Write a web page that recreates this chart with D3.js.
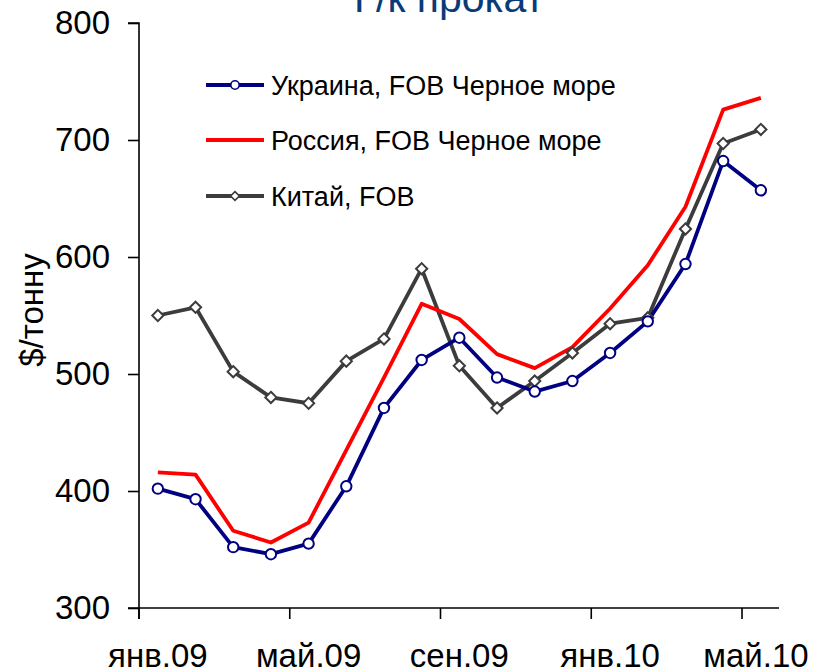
<!DOCTYPE html>
<html><head><meta charset="utf-8">
<script src="https://cdn.jsdelivr.net/npm/d3@7"></script>
<style>body{margin:0;background:#fff}svg{display:block;font-family:"Liberation Sans",Arial,sans-serif}</style>
</head><body><div id="chart"></div>
<script>
const categories = ["янв.09","фев.09","мар.09","апр.09","май.09","июн.09","июл.09","авг.09","сен.09","окт.09","ноя.09","дек.09","янв.10","фев.10","мар.10","апр.10","май.10"];
const tickLabels = ["янв.09","май.09","сен.09","янв.10","май.10"];
const ukraine = [402,393,352,346,355,404,471,512,531,497,485,494,518,545,594,682,657];
const russia  = [416,414,366,356,373,435,497,560,547,517,505,523,556,593,643,726,736];
const china   = [550,557,502,480,475,511,530,590,507,471,494,518,543,548,624,697,709];
const yTicks = [300,400,500,600,700,800];
const seriesNames = ["Украина, FOB Черное море","Россия, FOB Черное море","Китай, FOB"];

const W=814,H=670;
const svg=d3.select("#chart").append("svg").attr("width",W).attr("height",H);
const x=d3.scaleBand().domain(categories).range([139,779.7]).paddingInner(0).paddingOuter(0);
const y=d3.scaleLinear().domain([300,800]).range([608,23]);
const cx=d=>x(d)+x.bandwidth()/2;

// title (cut at top)
svg.append("text").attr("x",449).attr("y",12).attr("text-anchor","middle")
  .attr("font-size",41).attr("fill","#0a3a78").text("Г/к прокат");

// y axis
const ya=svg.append("g").attr("transform","translate(139,0)")
  .call(d3.axisLeft(y).tickValues(yTicks).tickSize(11).tickPadding(18).tickFormat(d3.format("d")));
ya.selectAll("text").attr("font-size",33).attr("fill","#000").attr("font-family","Liberation Sans, Arial, sans-serif");
ya.selectAll("line,path").attr("stroke","#000").attr("stroke-width",1.6);
ya.select(".domain").attr("d","M-11,23H0V619");

// x axis
const tickCats=tickLabels;
const xa=svg.append("g").attr("transform","translate(0,608)");
xa.append("line").attr("x1",128).attr("x2",779).attr("stroke","#000").attr("stroke-width",1.6);
xa.selectAll("line.t").data(tickCats).join("line").attr("class","t")
  .attr("x1",d=>x(d)).attr("x2",d=>x(d)).attr("y1",0).attr("y2",11).attr("stroke","#000").attr("stroke-width",1.6);
xa.selectAll("text").data(tickCats).join("text")
  .attr("x",d=>Math.min(cx(d),756)).attr("y",59).attr("text-anchor","middle")
  .attr("font-size",33).attr("fill","#000").text(d=>d);

// y label
svg.append("text").attr("transform","translate(43,310) rotate(-90)").attr("text-anchor","middle")
  .attr("font-size",33).attr("fill","#000").text("$/тонну");

const line=d3.line().x((d,i)=>cx(categories[i])).y(d=>y(d));
const series=[
  {name:seriesNames[0],data:ukraine,color:"#000080",marker:"circle"},
  {name:seriesNames[1],data:russia,color:"#ff0000",marker:"none"},
  {name:seriesNames[2],data:china,color:"#3c3c3c",marker:"diamond"}
];
const drawOrder=[series[2],series[1],series[0]];
drawOrder.forEach(s=>{
  svg.append("path").datum(s.data).attr("d",line).attr("fill","none")
    .attr("stroke",s.color).attr("stroke-width",3.8).attr("stroke-linejoin","round");
});
drawOrder.forEach(s=>{
  const g=svg.append("g");
  if(s.marker==="circle"){
    g.selectAll("circle").data(s.data).join("circle")
      .attr("cx",(d,i)=>cx(categories[i])).attr("cy",d=>y(d)).attr("r",5.2)
      .attr("fill","#fff").attr("stroke",s.color).attr("stroke-width",2);
  } else if(s.marker==="diamond"){
    g.selectAll("path").data(s.data).join("path")
      .attr("d",d3.symbol(d3.symbolDiamond2,80)())
      .attr("transform",(d,i)=>`translate(${cx(categories[i])},${y(d)})`)
      .attr("fill","#fff").attr("stroke",s.color).attr("stroke-width",2);
  }
});

// legend
const lg=svg.append("g");
const rows=[85,140,196];
series.forEach((s,i)=>{
  const r=lg.append("g").attr("transform",`translate(0,${rows[i]})`);
  r.append("line").attr("x1",206).attr("x2",264).attr("y1",0).attr("y2",0).attr("stroke",s.color).attr("stroke-width",3.8);
  if(s.marker==="circle") r.append("circle").attr("cx",235).attr("cy",0).attr("r",4.2).attr("fill","#fff").attr("stroke",s.color).attr("stroke-width",1.6);
  if(s.marker==="diamond") r.append("path").attr("d",d3.symbol(d3.symbolDiamond2,50)()).attr("transform","translate(235,0)").attr("fill","#fff").attr("stroke",s.color).attr("stroke-width",1.6);
  r.append("text").attr("x",271).attr("y",10).attr("font-size",27).attr("fill","#000").text(s.name);
});
</script></body></html>
